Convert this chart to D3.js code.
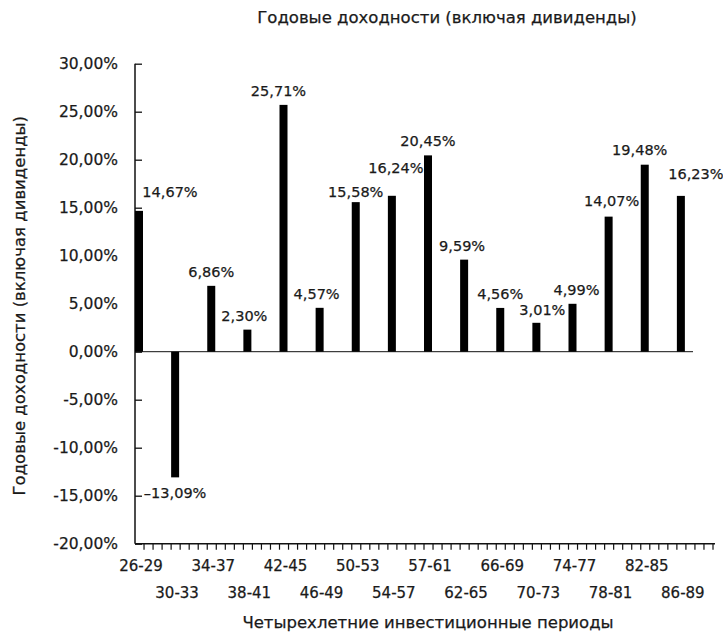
<!DOCTYPE html>
<html><head><meta charset="utf-8">
<script src="https://cdn.jsdelivr.net/npm/d3@7"></script>
<style>
html,body{margin:0;padding:0;background:#fff;}
svg text{font-family:"DejaVu Sans",sans-serif;fill:#1a1a1a;stroke:#1a1a1a;stroke-width:0.25px;}
</style></head>
<body>
<script>
const categories = ["26-29","30-33","34-37","38-41","42-45","46-49","50-53","54-57","57-61","62-65","66-69","70-73","74-77","78-81","82-85","86-89"];
const returns = [14.67,-13.09,6.86,2.30,25.71,4.57,15.58,16.24,20.45,9.59,4.56,3.01,4.99,14.07,19.48,16.23];
const valueLabels = ["14,67%","\u201313,09%","6,86%","2,30%","25,71%","4,57%","15,58%","16,24%","20,45%","9,59%","4,56%","3,01%","4,99%","14,07%","19,48%","16,23%"];
const yTicks = [-20,-15,-10,-5,0,5,10,15,20,25,30];
const yTickLabels = ["-20,00%","-15,00%","-10,00%","-5,00%","0,00%","5,00%","10,00%","15,00%","20,00%","25,00%","30,00%"];
const title = "Годовые доходности (включая дивиденды)";
const xTitle = "Четырехлетние инвестиционные периоды";
const yTitle = "Годовые доходности (включая дивиденды)";
// label nudges [dx, dy] relative to default placement above bar
const labelNudge = [[31,-5],[0,0],[0,0],[-3,0],[-5,0],[-3,0],[0,4],[4,-14],[0,0],[-2,0],[0,0],[6,1],[4,0],[3,-2],[-5,-1],[15,-8]];

const W = 723, H = 634;
const svg = d3.select("body").append("svg").attr("width", W).attr("height", H);

const x = d3.scaleBand().domain(categories).range([135, 713]).paddingInner(0).paddingOuter(0);
const y = d3.scaleLinear().domain([-20, 30]).range([543.7, 63.7]);
const barW = 8;

// title
svg.append("text").attr("x", 447).attr("y", 23).attr("text-anchor", "middle")
  .style("font-size", "16.5px").text(title);

// y axis
const yAxis = d3.axisLeft(y).tickValues(yTicks).tickSize(-7).tickPadding(17)
  .tickFormat((d, i) => yTickLabels[i]);
const gy = svg.append("g").attr("transform", "translate(135,0)").call(yAxis);
gy.select(".domain").attr("d", `M0,${y(30)}V${y(-20)}`).attr("stroke", "#111").attr("stroke-width", 1.5);
gy.selectAll(".tick line").attr("stroke", "#111").attr("stroke-width", 1.3);
gy.selectAll(".tick text").style("font-size", "15.5px").style("font-family", "DejaVu Sans")
  .attr("fill", "#1a1a1a").attr("stroke", "#1a1a1a").attr("stroke-width", 0.25);

// y title
svg.append("text").attr("transform", `translate(25,${(y(30)+y(-20))/2 + 2}) rotate(-90)`)
  .attr("text-anchor", "middle").style("font-size", "16.5px").text(yTitle);

// zero line
svg.append("line").attr("x1", 135).attr("x2", 693).attr("y1", y(0)).attr("y2", y(0))
  .attr("stroke", "#111").attr("stroke-width", 1);

// bottom axis with minor ticks
const step = x.step();
const minorTicks = d3.range(1, categories.length * 4 + 1).map(k => 135 + k * step / 4);
const gx = svg.append("g");
gx.append("line").attr("x1", 135).attr("x2", 715).attr("y1", y(-20)).attr("y2", y(-20))
  .attr("stroke", "#111").attr("stroke-width", 1.5);
gx.selectAll("line.mt").data(minorTicks).join("line").attr("class", "mt")
  .attr("x1", d => d).attr("x2", d => d).attr("y1", y(-20)).attr("y2", y(-20) + 6)
  .attr("stroke", "#111").attr("stroke-width", 1.2);
gx.selectAll("text.cat").data(categories).join("text").attr("class", "cat")
  .attr("x", d => x(d) + barW / 2 + 2)
  .attr("y", (d, i) => i % 2 === 0 ? 571 : 598)
  .attr("text-anchor", "middle").style("font-size", "15px").text(d => d);

// x title
svg.append("text").attr("x", 428).attr("y", 628).attr("text-anchor", "middle")
  .style("font-size", "16.5px").text(xTitle);

// bars
svg.selectAll("rect.bar").data(returns).join("rect").attr("class", "bar")
  .attr("x", (d, i) => x(categories[i]))
  .attr("width", barW)
  .attr("y", d => y(Math.max(0, d)))
  .attr("height", d => Math.abs(y(d) - y(0)))
  .attr("fill", "#000");

// value labels
svg.selectAll("text.val").data(returns).join("text").attr("class", "val")
  .attr("x", (d, i) => x(categories[i]) + barW / 2 + labelNudge[i][0])
  .attr("y", (d, i) => (d >= 0 ? y(d) - 9 : y(d) + 21) + labelNudge[i][1])
  .attr("text-anchor", "middle").style("font-size", "14.5px")
  .text((d, i) => valueLabels[i]);
</script>
</body></html>
